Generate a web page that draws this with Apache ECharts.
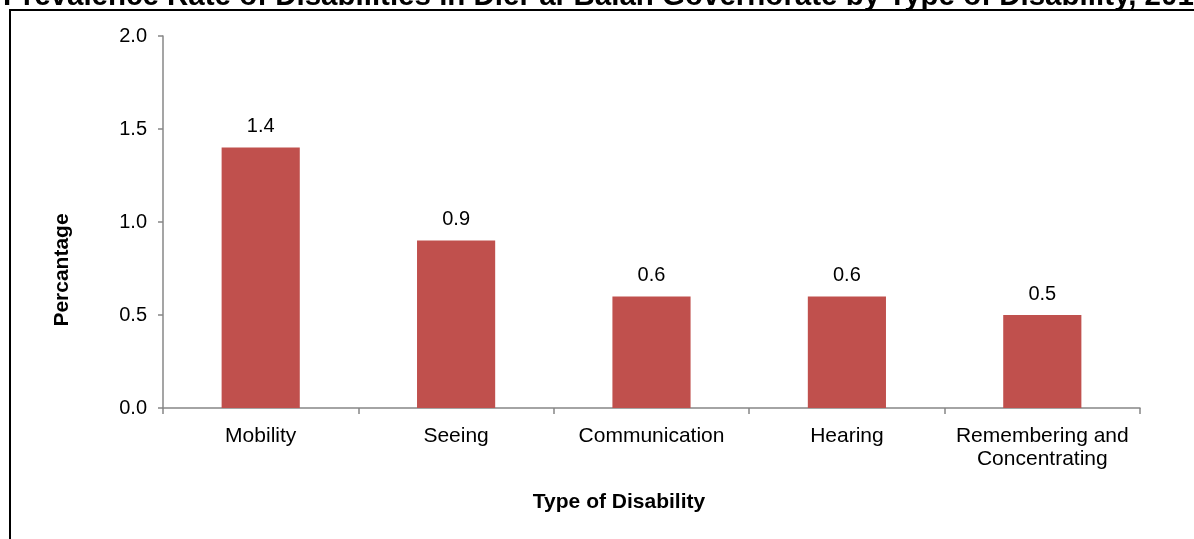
<!DOCTYPE html>
<html><head><meta charset="utf-8">
<script src="https://cdn.jsdelivr.net/npm/echarts@6/dist/echarts.min.js"></script>
<style>html,body{margin:0;padding:0;background:#fff}#c{width:1194px;height:539px}</style>
</head><body><div id="c"></div>
<script>
const titleText = 'Prevalence Rate of Disabilities in Dier al-Balah Governorate by Type of Disability, 2017';
const categories = ['Mobility', 'Seeing', 'Communication', 'Hearing', 'Remembering and\nConcentrating'];
const values = [1.4, 0.9, 0.6, 0.6, 0.5];
const yTicks = [0, 0.5, 1.0, 1.5, 2.0];
const yAxisName = 'Percantage';
const xAxisName = 'Type of Disability';

const chart = echarts.init(document.getElementById('c'));
const font = 'Arial, "Liberation Sans", sans-serif';
const axisColor = '#878787';
chart.setOption({
  animation: false,
  graphic: [
    { type: 'rect', shape: { x: 10, y: 10, width: 1300, height: 700 }, style: { fill: 'none', stroke: '#000', lineWidth: 2 } },
    { type: 'text', x: 3, y: 12, style: { text: titleText, font: 'bold 29.5px ' + font, fill: '#000', verticalAlign: 'bottom' } },
    { type: 'text', x: 62, y: 270, rotation: Math.PI / 2, style: { text: yAxisName, font: 'bold 21px ' + font, fill: '#000', align: 'center', verticalAlign: 'middle' } },
    { type: 'text', x: 619, y: 502, style: { text: xAxisName, font: 'bold 21px ' + font, fill: '#000', align: 'center', verticalAlign: 'middle' } }
  ],
  grid: { left: 163, right: 54, top: 36, bottom: 131 },
  xAxis: {
    type: 'category', data: categories,
    axisLine: { lineStyle: { color: axisColor, width: 1.5 } },
    axisTick: { show: true, length: 6, lineStyle: { color: axisColor, width: 1.5 } },
    axisLabel: { color: '#000', fontSize: 21, fontFamily: font, margin: 17, lineHeight: 23, interval: 0 }
  },
  yAxis: {
    type: 'value', min: yTicks[0], max: yTicks[yTicks.length - 1], interval: 0.5,
    splitLine: { show: false },
    axisLine: { show: true, lineStyle: { color: axisColor, width: 1.5 } },
    axisTick: { show: true, length: 5, lineStyle: { color: axisColor, width: 1.5 } },
    axisLabel: { color: '#000', fontSize: 20, fontFamily: font, margin: 16, formatter: v => v.toFixed(1) }
  },
  series: [{
    type: 'bar', data: values, barWidth: '40%',
    itemStyle: { color: '#C0504D' },
    label: { show: true, position: 'top', distance: 11, color: '#000', fontSize: 20, fontFamily: font, formatter: p => p.value.toFixed(1) }
  }]
});
</script></body></html>
